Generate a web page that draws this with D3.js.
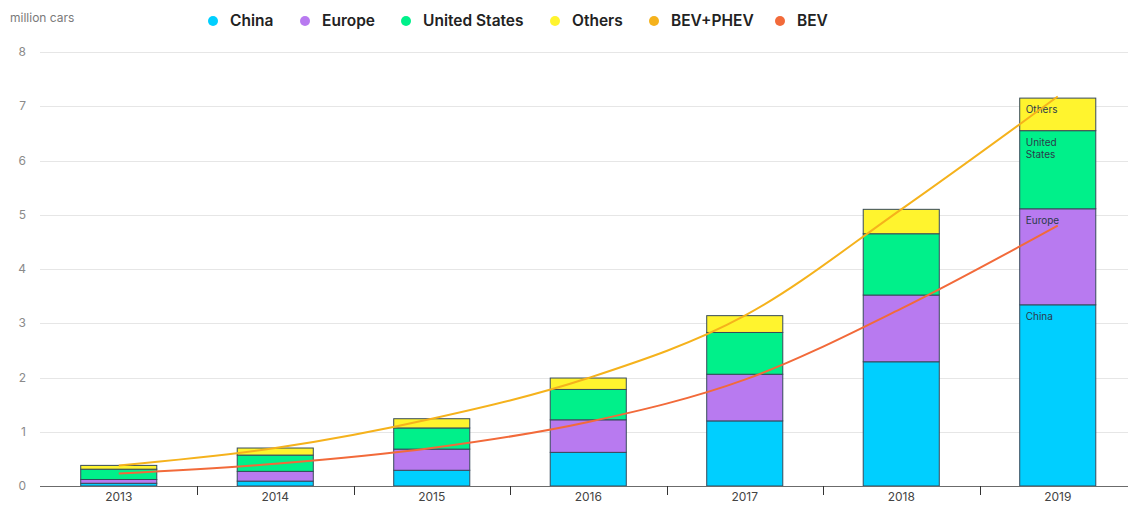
<!DOCTYPE html>
<html><head><meta charset="utf-8">
<script src="https://cdn.jsdelivr.net/npm/d3@7"></script>
<style>body{margin:0;background:#fff;font-family:Inter,"Noto Sans",sans-serif}</style>
</head><body><svg id="c" width="1128" height="505"></svg>
<script>
const years = ["2013","2014","2015","2016","2017","2018","2019"];
const china = [0.05, 0.09, 0.29, 0.62, 1.20, 2.29, 3.34];
const europe = [0.07, 0.18, 0.39, 0.60, 0.86, 1.23, 1.77];
const unitedStates = [0.19, 0.30, 0.39, 0.56, 0.77, 1.13, 1.44];
const others = [0.07, 0.13, 0.17, 0.21, 0.31, 0.45, 0.60];
const bevPhev = [0.38, 0.70, 1.24, 1.99, 3.14, 5.10, 7.18];
const bev = [0.23, 0.41, 0.70, 1.18, 1.96, 3.27, 4.80];
const yTicks = [0,1,2,3,4,5,6,7,8];

const seriesKeys = ["China","Europe","United States","Others"];
const seriesVals = [china, europe, unitedStates, others];
const colors = {"China":"#00cfff","Europe":"#b87af0","United States":"#00f08a","Others":"#fff42e","BEV+PHEV":"#f5b21c","BEV":"#f26a3a"};

const svg = d3.select("#c");
const x = d3.scaleBand().domain(years).range([40.5, 1136]).paddingInner(0.514).paddingOuter(0.257);
const y = d3.scaleLinear().domain([0,8]).range([486, 52]);

// gridlines
svg.append("g").selectAll("line").data(yTicks.filter(d=>d>0)).join("line")
  .attr("x1",40).attr("x2",1128).attr("y1",d=>Math.round(y(d))+0.5).attr("y2",d=>Math.round(y(d))+0.5)
  .attr("stroke","#e6e6e6").attr("stroke-width",1);
// y labels
svg.append("g").selectAll("text").data(yTicks).join("text")
  .attr("x",26).attr("y",d=>y(d)).attr("dy","0.35em").attr("text-anchor","end")
  .attr("font-size",12).attr("fill","#8a8a8a").text(d=>d);
svg.append("text").attr("x",10).attr("y",22).attr("font-size",12).attr("fill","#7a7a7a").text("million cars");

// stacked data
const table = years.map((yr,i)=>{const o={year:yr}; seriesKeys.forEach((k,j)=>o[k]=seriesVals[j][i]); return o;});
const stacked = d3.stack().keys(seriesKeys)(table);

const bars = svg.append("g");
stacked.forEach(s=>{
  bars.append("g").selectAll("rect").data(s).join("rect")
    .attr("x",d=>x(d.data.year)).attr("width",x.bandwidth())
    .attr("y",d=>y(d[1])).attr("height",d=>y(d[0])-y(d[1]))
    .attr("fill",colors[s.key]).attr("stroke","#36495a").attr("stroke-width",1);
});

// labels in last bar
const last = years.length-1;
const lab = svg.append("g").attr("font-size",10).attr("fill","#2b3a4a");
stacked.forEach(s=>{
  const d = s[last];
  const lines = s.key==="United States" ? ["United","States"] : [s.key];
  lines.forEach((t,k)=>{
    lab.append("text").attr("x",x(years[last])+6).attr("y",y(d[1])+15+k*12).text(t);
  });
});

// x axis
svg.append("line").attr("x1",40).attr("x2",1128).attr("y1",486.5).attr("y2",486.5).attr("stroke","#6b6b6b").attr("stroke-width",1.2);
svg.append("g").selectAll("line").data(years.slice(1)).join("line")
  .attr("x1",d=>Math.round(x(d)-x.step()*x.paddingInner()/2)+0.5).attr("x2",d=>Math.round(x(d)-x.step()*x.paddingInner()/2)+0.5)
  .attr("y1",486).attr("y2",495).attr("stroke","#333").attr("stroke-width",1);
svg.append("g").selectAll("text").data(years).join("text")
  .attr("x",d=>x(d)+x.bandwidth()/2).attr("y",501).attr("text-anchor","middle")
  .attr("font-size",12).attr("fill","#444").text(d=>d);

// lines
const line = arr => d3.line().x((d,i)=>x(years[i])+x.bandwidth()/2).y(d=>y(d)).curve(d3.curveMonotoneX)(arr);
svg.append("path").attr("d",line(bevPhev)).attr("fill","none").attr("stroke",colors["BEV+PHEV"]).attr("stroke-width",2);
svg.append("path").attr("d",line(bev)).attr("fill","none").attr("stroke",colors["BEV"]).attr("stroke-width",2);

// legend
const legendItems = ["China","Europe","United States","Others","BEV+PHEV","BEV"];
const legendX = [213, 305, 406, 555, 654, 780];
const lg = svg.append("g");
legendItems.forEach((k,i)=>{
  lg.append("circle").attr("cx",legendX[i]).attr("cy",21).attr("r",5).attr("fill",colors[k]);
  lg.append("text").attr("x",legendX[i]+17).attr("y",21).attr("dy","0.35em")
    .attr("font-size",15.5).attr("font-weight",600).attr("fill","#222").text(k);
});
</script></body></html>
